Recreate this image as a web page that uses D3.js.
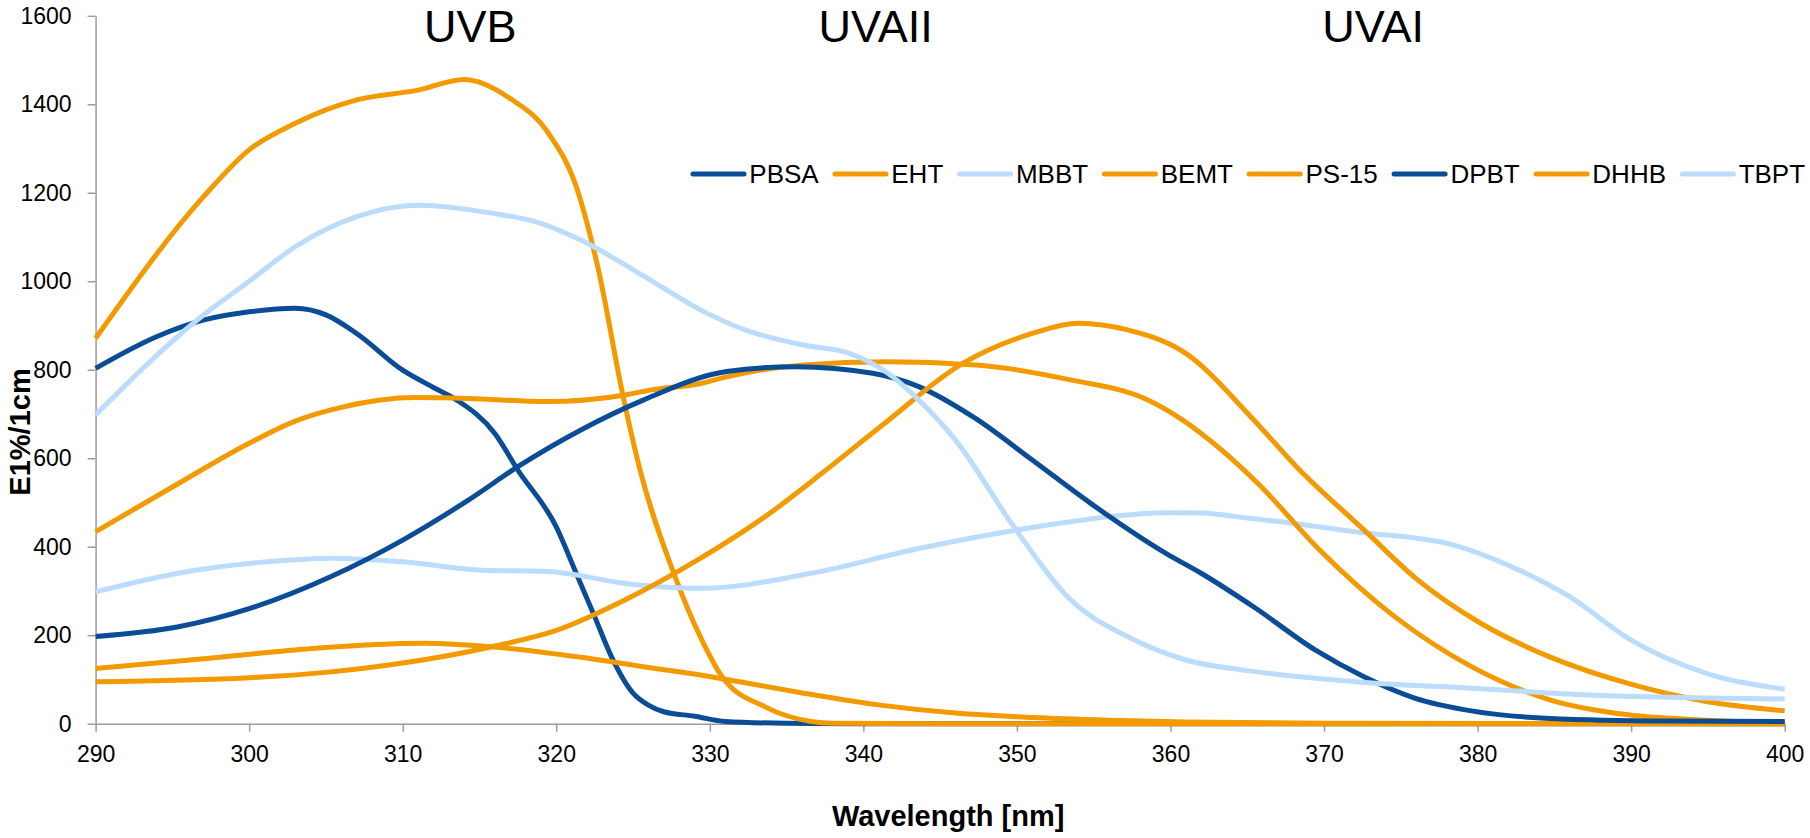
<!DOCTYPE html>
<html>
<head>
<meta charset="utf-8">
<title>UV filter absorbance</title>
<script src="https://cdn.jsdelivr.net/npm/d3@7"></script>
<style>
  body { margin: 0; background: #fff; }
  svg { display: block; font-family: "Liberation Sans", Arial, sans-serif; }
  .axis path, .axis line { stroke: #9c9c9c; stroke-width: 1.5px; }
  .axis text { font-size: 23px; fill: #000; }
  .label { font-size: 29px; font-weight: bold; }
  .band { font-size: 45px; }
  .legend text { font-size: 26px; }
</style>
</head>
<body>
<svg></svg>
<script>
'use strict';

// series names, in the order Excel drew them
var seriesNames = ['PBSA', 'EHT', 'MBBT', 'BEMT', 'PS-15', 'DPBT', 'DHHB', 'TBPT'];
var seriesColors = ['#0b4c96', '#f39a00', '#bbdcfd', '#f39a00', '#f39a00', '#0b4c96', '#f39a00', '#bbdcfd'];

// [wavelength nm, E1%/1cm]
var pbsa = [[290,803],[294,875],[297,912],[300,931],[303,939],[305,924],[307,882],[310,799],[312,760],[313.5,732],[316,656],[317.5,573],[320,445],[321.3,340],[322.5,242],[323.6,151],[325,69],[326,42],[327,27],[329,17],[331,5],[335,1],[340,0],[400,0]];
var eht = [[290,871],[297,1190],[300,1297],[303,1357],[307,1410],[311,1432],[314,1456],[317,1413],[319.5,1334],[321.3,1214],[322.7,1033],[324.4,732],[325.4,581],[327.6,345],[329.4,195],[330.8,106],[333.6,38],[336.6,5],[338,1],[345,0],[400,0]];
var mbbt = [[290,298],[296,344],[301.2,366],[305.3,374],[310,366],[315.2,347],[319.5,344],[324.5,317],[329.4,306],[336.6,340],[343.6,396],[350,438],[356,468],[359.7,477],[362,476],[365.2,464],[367,457],[372,434],[378.4,404],[382.2,355],[386,287],[389.8,193],[394.9,114],[400,78]];
var bemt = [[290,434],[295,535],[300,634],[303,684],[306,715],[310.8,737],[314.3,735],[319.3,728],[324.5,743],[326.1,754],[329.4,769],[331.1,784],[336.1,811],[341.5,818],[347.3,811],[353.5,777],[358.5,732],[360.8,686],[362,656],[365.7,543],[369.5,400],[374.6,242],[379.6,129],[384.7,54],[389.8,20],[394.9,8],[400,2]];
var ps15 = [[290,125],[298.3,151],[304.1,170],[311.4,182],[315.8,174],[321.6,150],[326,127],[329.4,110],[331.1,100],[336.1,69],[341.1,42],[346,24],[351,14],[356,8],[361,4],[370,1],[400,0]];
var dpbt = [[290,197],[295.4,219],[300.1,261],[305.3,332],[310,415],[314.3,506],[317.5,581],[321.6,664],[325.7,732],[331.1,796],[335.6,807],[340.6,792],[343.6,762],[347.3,690],[351,596],[354.8,498],[359.7,385],[362,340],[365.5,262],[369.5,165],[372.6,106],[375.9,58],[379.6,29],[384.7,12],[392.3,6],[400,5]];
var dhhb = [[290,95],[300,104],[305,116],[310,137],[315.8,174],[320.1,212],[324.5,280],[329.4,374],[333.6,468],[337.3,566],[341.1,671],[346.5,815],[351,882],[354,905],[357.2,890],[361,837],[365.2,695],[368.2,581],[372.6,438],[376.1,325],[380.2,227],[384.7,151],[389.8,91],[394.9,50],[400,29]];
var tbpt = [[290,698],[296.6,912],[300,1000],[303,1078],[307,1146],[311,1172],[315.8,1154],[319,1131],[321.6,1093],[325.4,1018],[329.8,928],[332.3,890],[336.1,856],[339.1,837],[341.6,792],[343.6,732],[346,641],[349.8,445],[353.5,280],[357.2,197],[361,144],[365,120],[372,95],[379.6,80],[387.3,65],[400,56]];

var xTicks = [290, 300, 310, 320, 330, 340, 350, 360, 370, 380, 390, 400];
var yTicks = [0, 200, 400, 600, 800, 1000, 1200, 1400, 1600];
var bands = [['UVB', 314.4], ['UVAII', 340.8], ['UVAI', 373.2]];

var allSeries = [pbsa, eht, mbbt, bemt, ps15, dpbt, dhhb, tbpt];

// Setting up the chart area
var canvasWidth = 1810;
var canvasHeight = 838;
var plotLeft = 95.6;
var plotRight = 1784.7;
var plotTop = 15.8;
var plotBottom = 723.7;

var svg = d3.select('svg')
  .attr('width', canvasWidth)
  .attr('height', canvasHeight);

var xScale = d3.scaleLinear().domain([290, 400]).range([plotLeft, plotRight]);
var yScale = d3.scaleLinear().domain([0, 1600]).range([plotBottom, plotTop]);

// axes
svg.append('g')
  .attr('class', 'x axis')
  .attr('transform', 'translate(0,' + plotBottom + ')')
  .call(d3.axisBottom(xScale).tickValues(xTicks).tickSize(8).tickSizeOuter(0).tickPadding(14).tickFormat(d3.format('d')));

svg.append('g')
  .attr('class', 'y axis')
  .attr('transform', 'translate(' + plotLeft + ',0)')
  .call(d3.axisLeft(yScale).tickValues(yTicks).tickSize(8).tickSizeOuter(0).tickPadding(16).tickFormat(d3.format('d')));

svg.selectAll('.axis text').attr('font-family', null);

// axis labels
svg.append('text')
  .attr('class', 'label')
  .attr('x', (plotLeft + plotRight) / 2 + 8)
  .attr('y', 826)
  .attr('text-anchor', 'middle')
  .text('Wavelength [nm]');

svg.append('text')
  .attr('class', 'label')
  .attr('transform', 'translate(29.5,432) rotate(-90)')
  .attr('text-anchor', 'middle')
  .text('E1%/1cm');

// UV band titles
svg.selectAll('.band')
  .data(bands)
  .enter().append('text')
  .attr('class', 'band')
  .attr('x', function(d) { return xScale(d[1]); })
  .attr('y', 41.5)
  .attr('text-anchor', 'middle')
  .text(function(d) { return d[0]; });

// curves
var line = d3.line()
  .x(function(d) { return xScale(d[0]); })
  .y(function(d) { return yScale(d[1]); })
  .curve(d3.curveMonotoneX);

svg.append('g').selectAll('path')
  .data(allSeries)
  .enter().append('path')
  .attr('d', line)
  .attr('fill', 'none')
  .attr('stroke', function(d, i) { return seriesColors[i]; })
  .attr('stroke-width', 5)
  .attr('stroke-linejoin', 'round');

// legend, one row, items placed after measuring the text
var legend = svg.append('g').attr('class', 'legend');
var lx = 690.5;
var ly = 174;
seriesNames.forEach(function(name, i) {
  legend.append('line')
    .attr('x1', lx + 2.5)
    .attr('x2', lx + 53.5)
    .attr('y1', ly)
    .attr('y2', ly)
    .attr('stroke', seriesColors[i])
    .attr('stroke-width', 5)
    .attr('stroke-linecap', 'round');
  var t = legend.append('text')
    .attr('x', lx + 58.8)
    .attr('y', ly + 9.3)
    .text(name);
  lx = lx + 58.8 + t.node().getComputedTextLength() + 13.8;
});
</script>
</body>
</html>
